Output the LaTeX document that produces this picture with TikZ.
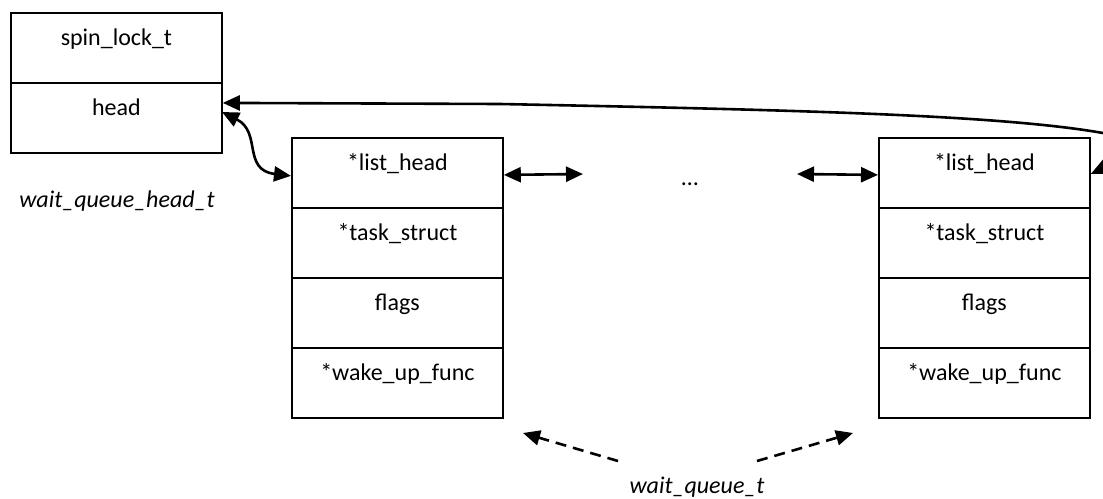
\documentclass[tikz,border=0pt]{standalone}
\usepackage{fontspec}
\setmainfont{Carlito}
\usetikzlibrary{arrows.meta}
\begin{document}
\begin{tikzpicture}[x=1pt,y=-1pt,
  cell/.style={draw,line width=1.8pt,anchor=north west,minimum width=211pt,inner sep=0pt,
    text height=33pt,text depth=37pt,font=\fontsize{24}{28}\selectfont},
  lbl/.style={anchor=base,inner sep=0pt,font=\fontsize{24}{28}\selectfont\itshape},
  tip/.style={-{Triangle[length=17pt,width=15pt]}},
  dtip/.style={{Triangle[length=17pt,width=15pt]}-{Triangle[length=17pt,width=15pt]}},
  conn/.style={line width=2.6pt},
  dconn/.style={line width=2.6pt,dash pattern=on 11pt off 7pt}]
\useasboundingbox (0,0) rectangle (1103,498);
% wait_queue_head_t
\node[cell] (spin) at (10,12) {spin\_lock\_t};
\node[cell] (head) at (10,82) {head};
\node[lbl] (wqh) at (117,207) {wait\_queue\_head\_t};
% first wait_queue_t
\node[cell] (m1) at (291,137) {*list\_head};
\node[cell] (m2) at (291,207) {*task\_struct};
\node[cell] (m3) at (291,277) {flags};
\node[cell] (m4) at (291,347) {*wake\_up\_func};
% last wait_queue_t
\node[cell] (r1) at (878,137) {*list\_head};
\node[cell] (r2) at (878,207) {*task\_struct};
\node[cell] (r3) at (878,277) {flags};
\node[cell] (r4) at (878,347) {*wake\_up\_func};
% ellipsis and label
\node[anchor=base,inner sep=0pt,font=\fontsize{24}{28}\selectfont] (dots) at (690,185) {…};
\node[lbl] (wq) at (697,493) {wait\_queue\_t};
% coordinates
\coordinate (dl) at (583,174);
\coordinate (dr) at (797,174);
\coordinate (hs) at (222,112);
\coordinate (qa) at (618,461);
\coordinate (qb) at (523,433);
\coordinate (qc) at (757,461);
\coordinate (qd) at (853,433);
\coordinate (ta) at (500,104);
\coordinate (tb) at (1103,133);
% connectors
\draw[conn,dtip] ([yshift=-2pt]m1.east) -- (dl);
\draw[conn,dtip] (dr) -- ([yshift=-2pt]r1.west);
\draw[conn,dtip] (hs) .. controls (262,132) and (242,170) .. ([yshift=-3pt]m1.west);
\draw[conn,tip] (tb) .. controls (1000,115) and (800,110) .. (ta) -- ([yshift=15pt]head.east);
\draw[conn,tip] (tb) .. controls (1133,138) and (1125,158) .. ([yshift=-1pt]r1.east);
\draw[dconn,tip] (qa) -- (qb);
\draw[dconn,tip] (qc) -- (qd);
\end{tikzpicture}
\end{document}
